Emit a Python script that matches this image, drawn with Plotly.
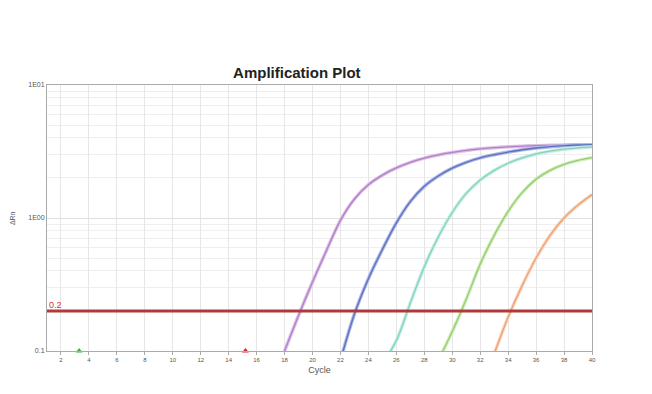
import math
import plotly.graph_objects as go

# Data (cycle -> delta Rn)
purple_cycles = list(range(18, 41))
purple_vals = [0.10, 0.185, 0.33, 0.57, 0.96, 1.39, 1.78, 2.1, 2.38, 2.62, 2.82, 2.98,
               3.11, 3.22, 3.31, 3.38, 3.43, 3.47, 3.5, 3.52, 3.54, 3.55, 3.56]
blue_cycles = list(range(22, 41))
blue_vals = [0.085, 0.19, 0.35, 0.58, 0.92, 1.33, 1.73, 2.07, 2.37, 2.62, 2.83, 2.99,
             3.13, 3.26, 3.36, 3.44, 3.5, 3.54, 3.56]
teal_cycles = list(range(25, 41))
teal_vals = [0.08, 0.12, 0.23, 0.43, 0.72, 1.1, 1.53, 1.93, 2.28, 2.58, 2.83, 3.03,
             3.18, 3.29, 3.37, 3.42]
green_cycles = list(range(29, 41))
green_vals = [0.085, 0.14, 0.245, 0.45, 0.74, 1.12, 1.55, 1.96, 2.28, 2.53, 2.71, 2.84]
orange_cycles = list(range(33, 41))
orange_vals = [0.095, 0.18, 0.31, 0.5, 0.74, 1.0, 1.25, 1.5]

threshold = 0.2
baseline_markers_x = [3.3, 15.2]

series = [
    (purple_cycles, purple_vals, "#dcc0e6", "#b27fcb"),
    (blue_cycles, blue_vals, "#aeb9e6", "#5d70c0"),
    (teal_cycles, teal_vals, "#c6ede3", "#84d3c1"),
    (green_cycles, green_vals, "#d2edbf", "#94cf6e"),
    (orange_cycles, orange_vals, "#f8d6c0", "#eda274"),
]

fig = go.Figure()
for xs, ys, light, dark in series:
    fig.add_trace(go.Scatter(x=xs, y=ys, mode="lines",
                             line=dict(color=light, width=3.5, shape="spline"),
                             hoverinfo="skip"))
    fig.add_trace(go.Scatter(x=xs, y=ys, mode="lines",
                             line=dict(color=dark, width=1.3, shape="spline")))

# threshold line
fig.add_trace(go.Scatter(x=[1, 40], y=[threshold, threshold], mode="lines",
                         line=dict(color="#b03a3a", width=3)))

# baseline start / end markers
fig.add_trace(go.Scatter(x=baseline_markers_x, y=[0.1, 0.1], mode="markers",
                         marker=dict(symbol="triangle-up", size=6,
                                     color=["#3cb043", "#d62828"]),
                         cliponaxis=False))

minor_vals = [m * 10 ** e for e in (-1, 0) for m in range(2, 10)]

fig.update_layout(
    width=652, height=394,
    margin=dict(l=39, r=68, t=77, b=51, autoexpand=False),
    paper_bgcolor="white", plot_bgcolor="white",
    showlegend=False,
    font=dict(family="Liberation Sans, Arial, sans-serif", color="#555"),
    title=dict(text="<b>Amplification Plot</b>", x=0.443, xanchor="center",
               y=0.835, yanchor="middle", font=dict(size=15, color="#222")),
    xaxis=dict(range=[1, 40], tickmode="linear", tick0=2, dtick=2,
               automargin=False,
               showgrid=True, gridcolor="#e6e6e6", gridwidth=1,
               showline=True, linecolor="#aaaaaa", mirror=True,
               ticks="outside", ticklen=3, tickcolor="#aaaaaa",
               tickfont=dict(size=6, color="#555"),
               title=dict(text="Cycle", font=dict(size=9, color="#555"), standoff=4),
               zeroline=False),
    yaxis=dict(type="log", range=[-1, 1], automargin=False,
               tickvals=[0.1, 1, 10], ticktext=["0.1", "1E00", "1E01"],
               showgrid=True, gridcolor="#e0e0e0",
               minor=dict(tickvals=minor_vals, showgrid=True, gridcolor="#efefef"),
               showline=True, linecolor="#aaaaaa", mirror=True,
               ticks="", tickfont=dict(size=7, color="#555"),
               zeroline=False),
    annotations=[
        dict(x=1, y=math.log10(threshold), xref="x", yref="y", text="0.2",
             showarrow=False, xanchor="left", yanchor="bottom",
             yshift=-1, xshift=0, font=dict(size=9, color="#d03030")),
        dict(x=-0.064, y=0.5, xref="paper", yref="paper", text="ΔRn",
             showarrow=False, textangle=-90, xanchor="center", yanchor="middle",
             font=dict(size=7, color="#555")),
    ],
)

fig.write_html("out.html")
